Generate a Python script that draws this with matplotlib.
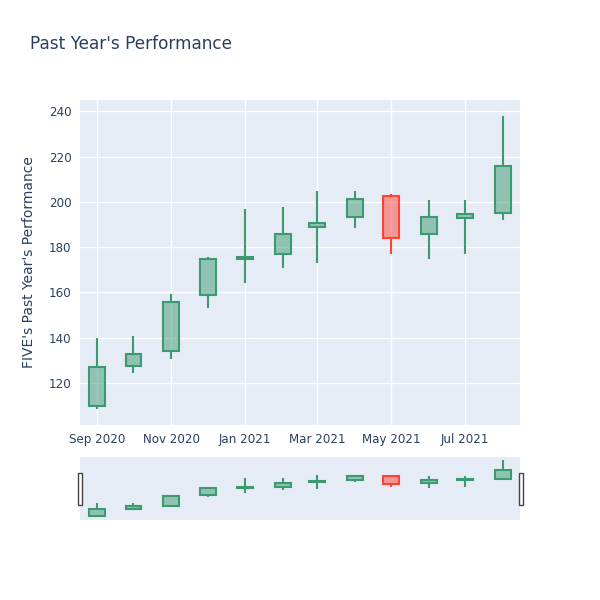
import matplotlib
matplotlib.use("Agg")
import matplotlib.pyplot as plt
import matplotlib.dates as mdates
from matplotlib.patches import Rectangle
import numpy as np
import pandas as pd

# monthly candles
dates = pd.to_datetime(["2020-09-01", "2020-10-01", "2020-11-01", "2020-12-01",
                        "2021-01-01", "2021-02-01", "2021-03-01", "2021-04-01",
                        "2021-05-01", "2021-06-01", "2021-07-01", "2021-08-01"])
opens = [110.0, 127.5, 134.0, 159.0, 175.0, 177.0, 189.0, 193.5, 202.5, 186.0, 193.0, 195.0]
closes = [127.0, 133.0, 156.0, 174.8, 175.8, 186.0, 190.5, 201.2, 184.0, 193.2, 194.5, 216.0]
highs = [140.0, 141.0, 159.5, 175.5, 197.0, 197.8, 205.0, 204.7, 203.4, 200.7, 200.7, 237.8]
lows = [108.5, 124.5, 130.5, 153.0, 164.0, 171.0, 173.0, 188.4, 177.0, 174.7, 177.0, 192.0]

up_col = "#3D9970"
down_col = "#FF4136"
bg = "#E5ECF6"
txt = "#2a3f5f"

fig = plt.figure(figsize=(6, 6), dpi=100)
ax = fig.add_axes([0.1333, 0.2917, 0.7334, 0.5417])
sl = fig.add_axes([0.1333, 0.1333, 0.7334, 0.105])

x = mdates.date2num(dates)
width = 13  # days


def draw_candles(a):
    for xi, o, c, h, l in zip(x, opens, closes, highs, lows):
        col = up_col if c >= o else down_col
        lo_b, hi_b = min(o, c), max(o, c)
        a.vlines(xi, l, lo_b, color=col, lw=1.5, zorder=3)
        a.vlines(xi, hi_b, h, color=col, lw=1.5, zorder=3)
        a.bar(xi, hi_b - lo_b, width, bottom=lo_b, color=col, alpha=0.5,
              zorder=3, linewidth=0)
        a.bar(xi, hi_b - lo_b, width, bottom=lo_b, fill=False, edgecolor=col,
              linewidth=1.5, zorder=4)


xmin = x[0] - 14
xmax = x[-1] + 14

for a in (ax, sl):
    a.set_facecolor(bg)
    for s in a.spines.values():
        s.set_visible(False)
    draw_candles(a)
    a.set_xlim(xmin, xmax)
    a.set_ylim(101.5, 245)

ax.grid(True, color="white", lw=1)
ax.set_axisbelow(True)
ax.set_yticks([120, 140, 160, 180, 200, 220, 240])
ax.xaxis.set_major_locator(mdates.MonthLocator(bymonth=[1, 3, 5, 7, 9, 11]))
ax.xaxis.set_major_formatter(mdates.DateFormatter("%b %Y"))
ax.tick_params(length=0, labelsize=8.6, labelcolor=txt, pad=6)
ax.set_ylabel("FIVE's Past Year's Performance", fontsize=10, color=txt, labelpad=9)

sl.set_xticks([])
sl.set_yticks([])

# range slider handles
for hx in (77.5, 518.5):
    fig.patches.append(Rectangle((hx / 600, 1 - 505 / 600), 4 / 600, 32 / 600,
                                 transform=fig.transFigure, facecolor="white",
                                 edgecolor="#444444", lw=1, zorder=5))

fig.text(30 / 600, 1 - 44 / 600, "Past Year's Performance", fontsize=12.2,
         color=txt, va="center", ha="left")

fig.savefig("out.png", dpi=100)
